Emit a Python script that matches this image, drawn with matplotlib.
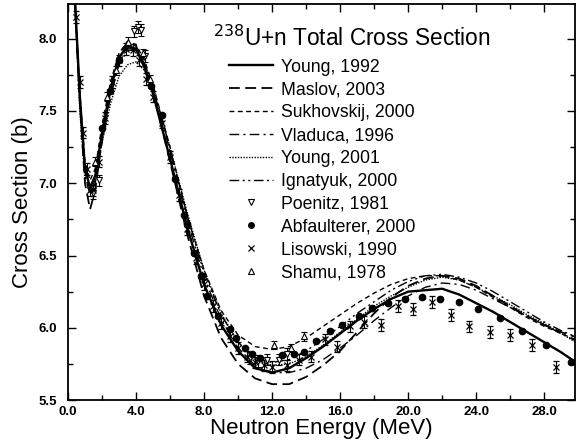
import matplotlib
matplotlib.use("Agg")
import matplotlib.pyplot as plt
from matplotlib.legend_handler import HandlerLine2D
from matplotlib.lines import Line2D
from matplotlib.ticker import MultipleLocator, FormatStrFormatter

plt.rcParams['font.family'] = ['Liberation Sans', 'DejaVu Sans']

# ---------------- data ----------------
energy = [0.4, 0.7, 1.0, 1.3, 1.6, 2.0, 2.5, 3.0, 3.5, 4.0, 4.5, 5.0, 6.0, 7.0,
          8.0, 9.0, 10.0, 11.0, 12.0, 13.0, 14.0, 15.0, 16.0, 17.0, 18.0, 19.0,
          20.0, 21.0, 22.0, 23.0, 24.0, 25.0, 26.0, 27.0, 28.0, 29.0, 30.0]

young1992 = [8.30, 7.60, 7.10, 6.97, 7.05, 7.35, 7.65, 7.87, 7.95, 7.93, 7.80, 7.62,
             7.17, 6.70, 6.30, 6.02, 5.84, 5.72, 5.69, 5.72, 5.79, 5.87, 5.96, 6.05,
             6.13, 6.20, 6.25, 6.26, 6.27, 6.23, 6.17, 6.11, 6.04, 5.97, 5.90, 5.83, 5.75]
maslov2003 = [8.30, 7.55, 7.00, 6.82, 6.95, 7.30, 7.65, 7.88, 7.98, 7.95, 7.82, 7.63,
              7.15, 6.65, 6.22, 5.93, 5.75, 5.65, 5.61, 5.61, 5.66, 5.74, 5.84, 5.97,
              6.10, 6.21, 6.29, 6.34, 6.36, 6.34, 6.29, 6.22, 6.15, 6.08, 6.02, 5.97, 5.93]
sukhovskij2000 = [8.28, 7.62, 7.15, 7.02, 7.10, 7.40, 7.70, 7.90, 7.98, 7.96, 7.85, 7.68,
                  7.25, 6.78, 6.40, 6.12, 5.95, 5.87, 5.85, 5.87, 5.93, 6.01, 6.09, 6.17,
                  6.24, 6.30, 6.34, 6.36, 6.36, 6.33, 6.28, 6.21, 6.14, 6.07, 6.01, 5.96, 5.91]
vladuca1996 = [8.25, 7.55, 7.05, 6.92, 7.00, 7.28, 7.60, 7.82, 7.92, 7.92, 7.82, 7.66,
               7.22, 6.75, 6.35, 6.06, 5.86, 5.74, 5.69, 5.69, 5.72, 5.78, 5.86, 5.95,
               6.05, 6.14, 6.22, 6.28, 6.31, 6.30, 6.26, 6.20, 6.14, 6.08, 6.02, 5.96, 5.90]
young2001 = [8.25, 7.50, 7.02, 6.98, 7.05, 7.28, 7.55, 7.74, 7.82, 7.84, 7.78, 7.65,
             7.25, 6.80, 6.40, 6.10, 5.90, 5.78, 5.74, 5.75, 5.80, 5.88, 5.97, 6.06,
             6.15, 6.22, 6.28, 6.33, 6.35, 6.33, 6.28, 6.22, 6.16, 6.09, 6.03, 5.96, 5.89]
ignatyuk2000 = [8.28, 7.58, 7.08, 6.95, 7.02, 7.32, 7.62, 7.84, 7.93, 7.93, 7.83, 7.67,
                7.24, 6.78, 6.38, 6.09, 5.90, 5.79, 5.76, 5.78, 5.84, 5.92, 6.01, 6.10,
                6.18, 6.26, 6.32, 6.36, 6.37, 6.35, 6.31, 6.25, 6.18, 6.11, 6.04, 5.98, 5.93]

poenitz_e = [1.5, 1.8, 3.9, 4.1, 4.3, 4.5, 10.7, 11.2, 11.7, 12.4, 12.9]
poenitz_s = [6.93, 7.02, 8.05, 8.08, 8.06, 7.88, 5.79, 5.77, 5.78, 5.78, 5.82]

abf_e = [2.0, 2.5, 3.0, 4.9, 5.5, 6.3, 6.8, 7.0, 7.4, 7.8, 8.2, 8.8, 9.5, 9.9, 10.4,
         10.8, 11.3, 12.6, 13.3, 13.9, 14.6, 15.4, 16.1, 17.1, 17.9, 18.8, 19.8,
         20.8, 21.9, 23.0, 24.1, 25.4, 26.7, 28.1, 29.6]
abf_s = [7.38, 7.64, 7.85, 7.67, 7.47, 7.03, 6.78, 6.72, 6.52, 6.36, 6.22, 6.08, 5.99,
         5.93, 5.86, 5.82, 5.79, 5.81, 5.82, 5.83, 5.91, 5.98, 6.02, 6.08, 6.14,
         6.17, 6.20, 6.21, 6.20, 6.18, 6.13, 6.07, 5.98, 5.88, 5.76]

lis_e = [0.5, 0.7, 0.9, 1.1, 1.3, 1.5, 1.8, 2.2, 2.6, 3.0, 3.4, 3.8, 4.2, 4.6, 5.0,
         5.5, 6.0, 6.5, 7.0, 7.5, 8.0, 8.5, 9.0, 9.5, 10.0, 10.5, 11.0, 11.5, 12.0,
         12.9, 13.6, 14.3, 15.1, 15.8, 16.6, 17.4, 18.4, 19.4, 20.3, 21.4, 22.5,
         23.6, 24.8, 26.0, 27.3, 28.7]
lis_s = [8.15, 7.70, 7.35, 7.10, 6.95, 6.95, 7.15, 7.45, 7.70, 7.85, 7.93, 7.92,
         7.85, 7.72, 7.60, 7.42, 7.18, 6.92, 6.68, 6.48, 6.30, 6.15, 6.03, 5.94,
         5.86, 5.80, 5.76, 5.74, 5.73, 5.74, 5.78, 5.80, 5.92, 5.87, 6.01, 6.04,
         6.02, 6.15, 6.13, 6.18, 6.09, 6.01, 5.97, 5.95, 5.88, 5.73]

shamu_e = [1.6, 2.3, 2.8, 3.5, 4.4, 4.8, 12.1, 13.1, 13.9]
shamu_s = [7.15, 7.60, 7.78, 7.98, 7.90, 7.72, 5.88, 5.86, 5.94]

# ---------------- figure ----------------
fig = plt.figure(figsize=(5.76, 4.45), dpi=100)
ax = fig.add_axes([0.118, 0.101, 0.880, 0.890])

ax.plot(energy, young1992, color='black', lw=1.7, ls='-', label='Young, 1992')
ax.plot(energy, maslov2003, color='black', lw=1.3, ls=(0, (6, 3)), label='Maslov, 2003')
ax.plot(energy, sukhovskij2000, color='black', lw=1.0, ls=(0, (3.5, 2.5)), label='Sukhovskij, 2000')
ax.plot(energy, vladuca1996, color='black', lw=1.0, ls=(0, (7, 3, 1.5, 3)), label='Vladuca, 1996')
ax.plot(energy, young2001, color='black', lw=1.0, ls=(0, (1, 1)), label='Young, 2001')
ax.plot(energy, ignatyuk2000, color='black', lw=1.0, ls=(0, (7, 2.5, 1.5, 2.5, 1.5, 2.5)),
        label='Ignatyuk, 2000')

eb = dict(ecolor='black', elinewidth=0.8, capsize=2, capthick=0.8, ls='none')
ax.errorbar(poenitz_e, poenitz_s, yerr=0.04, marker='v', ms=4.5, mfc='white', mec='black',
            mew=0.8, **eb)
ax.errorbar(abf_e, abf_s, yerr=0.01, marker='o', ms=4.5, mfc='black', mec='black', **eb)
ax.errorbar(lis_e, lis_s, yerr=0.04, marker='x', ms=5, mfc='black', mec='black', mew=0.9, **eb)
ax.errorbar(shamu_e, shamu_s, yerr=0.03, marker='^', ms=4.5, mfc='white', mec='black',
            mew=0.8, **eb)

ax.set_xlim(0, 29.8)
ax.set_ylim(5.5, 8.24)

ax.xaxis.set_major_locator(MultipleLocator(4))
ax.xaxis.set_minor_locator(MultipleLocator(2))
ax.yaxis.set_major_locator(MultipleLocator(0.5))
ax.yaxis.set_minor_locator(MultipleLocator(0.25))
ax.xaxis.set_major_formatter(FormatStrFormatter('%.1f'))
ax.yaxis.set_major_formatter(FormatStrFormatter('%.1f'))
ax.tick_params(which='both', direction='in', top=True, right=True, width=1.0)
ax.tick_params(which='major', length=6, labelsize=9.5)
ax.tick_params(axis='y', which='major', pad=8)
ax.tick_params(axis='x', which='major', pad=4)
ax.tick_params(which='minor', length=3.5)
for lab in ax.get_xticklabels() + ax.get_yticklabels():
    lab.set_fontweight('bold')
for s in ax.spines.values():
    s.set_linewidth(1.3)

ax.set_xlabel('Neutron Energy (MeV)', fontsize=16, labelpad=0)
ax.set_ylabel('Cross Section (b)', fontsize=16, labelpad=4)

ax.text(0.286, 0.913, r'$^{238}$U+n Total Cross Section', transform=ax.transAxes,
        fontsize=16.3, ha='left', va='center')


class RightMarkerHandler(HandlerLine2D):
    def get_xdata(self, legend, xdescent, ydescent, width, height, fontsize):
        xdata, _ = super().get_xdata(legend, xdescent, ydescent, width, height, fontsize)
        return xdata, [-xdescent + 1.04 * width]


handles, labels = ax.get_legend_handles_labels()
marker_handles = [
    Line2D([], [], ls='none', marker='v', ms=4, mfc='white', mec='black', mew=0.8),
    Line2D([], [], ls='none', marker='o', ms=4, mfc='black', mec='black'),
    Line2D([], [], ls='none', marker='x', ms=4.5, mec='black', mew=0.9),
    Line2D([], [], ls='none', marker='^', ms=4, mfc='white', mec='black', mew=0.8),
]
marker_labels = ['Poenitz, 1981', 'Abfaulterer, 2000', 'Lisowski, 1990', 'Shamu, 1978']
hmap = {h: RightMarkerHandler(numpoints=1) for h in marker_handles}
leg = ax.legend(handles + marker_handles, labels + marker_labels, loc='upper left',
                bbox_to_anchor=(0.318, 0.862), frameon=False, fontsize=12.7,
                handlelength=2.5, handletextpad=0.45, labelspacing=0.33,
                borderaxespad=0.0, borderpad=0.0, handler_map=hmap)

fig.savefig('out.png', dpi=100)
